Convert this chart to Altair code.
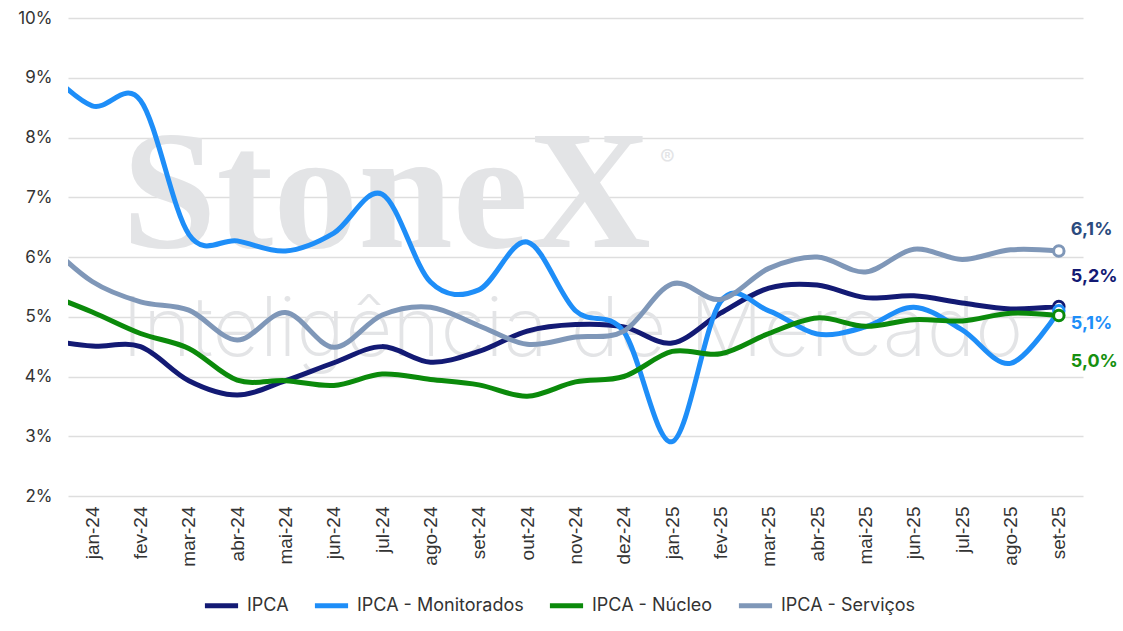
import json
import altair as alt
import pandas as pd

# month labels (first entry is the off-axis December 2023 point the lines come from)
months = ["dez-23", "jan-24", "fev-24", "mar-24", "abr-24", "mai-24", "jun-24", "jul-24",
          "ago-24", "set-24", "out-24", "nov-24", "dez-24", "jan-25", "fev-25", "mar-25",
          "abr-25", "mai-25", "jun-25", "jul-25", "ago-25", "set-25"]

series = ["IPCA", "IPCA - Monitorados", "IPCA - Núcleo", "IPCA - Serviços"]

ipca = [4.62, 4.51, 4.50, 3.93, 3.69, 3.93, 4.23, 4.50, 4.24, 4.42, 4.76, 4.87, 4.83,
        4.56, 5.06, 5.48, 5.53, 5.32, 5.35, 5.23, 5.13, 5.17]
monitorados = [9.18, 8.53, 8.62, 6.38, 6.27, 6.10, 6.40, 7.05, 5.58, 5.45, 6.25, 5.10, 4.75,
               2.91, 5.25, 5.10, 4.71, 4.83, 5.16, 4.78, 4.22, 5.10]
nucleo = [5.40, 5.08, 4.72, 4.47, 3.94, 3.93, 3.85, 4.04, 3.95, 3.86, 3.67, 3.91, 4.00,
          4.42, 4.38, 4.72, 4.98, 4.84, 4.95, 4.93, 5.06, 5.02]
servicos = [6.29, 5.59, 5.25, 5.11, 4.61, 5.07, 4.49, 5.03, 5.16, 4.85, 4.54, 4.66, 4.76,
            5.55, 5.29, 5.81, 6.00, 5.75, 6.13, 5.96, 6.12, 6.10]

colors = ["#131A74", "#1E8EF8", "#0B8A0B", "#7F97B8"]
label_colors = ["#131A74", "#1E8EF8", "#16900F", "#2B4B7E"]
label_dy = [-30, 13, 46, -21]

values_by_series = [ipca, monitorados, nucleo, servicos]
rows = []
for s, vals in zip(series, values_by_series):
    for i, v in enumerate(vals):
        rows.append({"idx": i - 1, "mes": months[i], "serie": s, "valor": v})
df = pd.DataFrame(rows)

tick_labels = months[1:]
label_expr = json.dumps(tick_labels) + "[datum.value]"

color_scale = alt.Scale(domain=series, range=colors)

x_enc = alt.X("idx:Q",
              scale=alt.Scale(domain=[-0.5, 20.5], nice=False, zero=False),
              axis=alt.Axis(values=list(range(21)), labelExpr=label_expr, labelAngle=270,
                            labelAlign="right", labelBaseline="middle", labelPadding=10,
                            labelFont="Liberation Sans", labelFontSize=19, labelColor="#333333",
                            grid=False, domain=False, ticks=False, title=None))
y_enc = alt.Y("valor:Q",
              scale=alt.Scale(domain=[2, 10], nice=False, zero=False),
              axis=alt.Axis(values=list(range(2, 11)), labelExpr="datum.value + '%'",
                            labelPadding=16, labelFont="Inter", labelFontSize=17,
                            labelColor="#333333", grid=True, gridColor="#DEDEDE",
                            gridWidth=1.5, domain=False, ticks=False, title=None))

wm_color = "#E3E4E6"
wm1 = alt.Chart(pd.DataFrame({"t": ["StoneX"]})).mark_text(
    font="Liberation Serif", fontWeight="bold", fontSize=170, color=wm_color,
    align="left", baseline="alphabetic").encode(
    x=alt.value(54), y=alt.value(229), text="t:N")
wm2 = alt.Chart(pd.DataFrame({"t": ["®"]})).mark_text(
    font="Inter", fontSize=22, color=wm_color, align="left", baseline="middle").encode(
    x=alt.value(592), y=alt.value(140), text="t:N")
wm3 = alt.Chart(pd.DataFrame({"t": ["Inteligência de Mercado"]})).mark_text(
    font="Inter", fontWeight=200, fontSize=82, color=wm_color,
    align="left", baseline="alphabetic").encode(
    x=alt.value(54), y=alt.value(338), text="t:N")

lines = alt.Chart(df).mark_line(interpolate="cardinal", strokeWidth=5, clip=True).encode(
    x=x_enc, y=y_enc,
    color=alt.Color("serie:N", scale=color_scale, sort=series,
                    legend=alt.Legend(title=None, orient="none", direction="horizontal",
                                      legendX=134, legendY=568, symbolType="stroke",
                                      symbolSize=1100, symbolStrokeWidth=5,
                                      labelFont="Inter", labelFontSize=18,
                                      labelColor="#333333", labelOffset=6,
                                      labelLimit=400, columnPadding=15, padding=0)),
    detail="serie:N")

last = df[df["idx"] == 20]
points = alt.Chart(last).mark_point(shape="circle", filled=False, fill="white",
                                    fillOpacity=1, strokeWidth=3, size=110, opacity=1).encode(
    x="idx:Q", y="valor:Q",
    stroke=alt.Stroke("serie:N", scale=color_scale, legend=None))

label_layers = []
for s, vals, c, dy in zip(series, values_by_series, label_colors, label_dy):
    d = pd.DataFrame({"idx": [20], "valor": [vals[-1]],
                      "txt": [f"{vals[-1]:.1f}".replace(".", ",") + "%"]})
    label_layers.append(
        alt.Chart(d).mark_text(align="left", baseline="middle", dx=12, dy=dy,
                               font="Inter", fontWeight="bold", fontSize=18, color=c).encode(
            x="idx:Q", y="valor:Q", text="txt:N"))

chart = alt.layer(wm1, wm2, wm3, lines, points, *label_layers).properties(
    width=1015, height=478,
    autosize=alt.AutoSizeParams(type="none"),
    padding={"left": 68, "top": 18, "right": 40, "bottom": 135},
    background="white"
).configure_view(stroke=None)

chart.save("out.html", embed_options={"renderer": "svg", "actions": False})
